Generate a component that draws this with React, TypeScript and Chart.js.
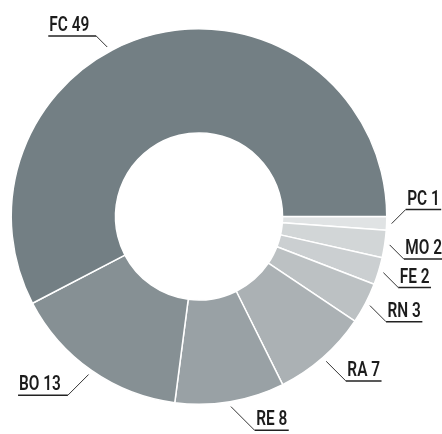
import React, { useEffect, useRef } from "react";
import { Chart, registerables } from "chart.js";

Chart.register(...registerables);

const categories = ["PC", "MO", "FE", "RN", "RA", "RE", "BO", "FC"];
const values = [1, 2, 2, 3, 7, 8, 13, 49];
const colors = ["#e0e3e4", "#d2d6d7", "#cbcfd1", "#bcc1c3", "#abb1b4", "#99a1a5", "#869094", "#737f84"];

const W = 442;
const H = 434;
const LABEL_FONT = '600 20px Roboto, "Liberation Sans", sans-serif';
const SQUEEZE = 0.77;

const outLabels = {
  id: "outLabels",
  afterDatasetsDraw(chart: any) {
    const ctx = chart.ctx;
    const meta = chart.getDatasetMeta(0);
    const labels = chart.data.labels as string[];
    const vals = chart.data.datasets[0].data as number[];
    const items: any[] = [];
    ctx.save();
    ctx.font = LABEL_FONT;
    meta.data.forEach((arc: any, i: number) => {
      const p = arc.getProps(["x", "y", "startAngle", "endAngle", "outerRadius"], true);
      const cx = p.x, cy = p.y;
      let a = (p.startAngle + p.endAngle) / 2;
      const r1 = p.outerRadius + 5;
      const side = Math.cos(a) >= 0 ? 1 : -1;
      const dir = Math.sin(a) >= 0 ? 1 : -1;
      const s2 = Math.sin(a) * Math.sin(a);
      let d = 14 + 10 * s2;
      let ax = cx + r1 * Math.cos(a);
      let ay = cy + r1 * Math.sin(a);
      let ly = ay + dir * d;
      const minLine = 36;
      const maxLine = H - 2;
      if (ly < minLine) {
        d = 11;
        ay = minLine + d;
        const s = Math.max(-1, Math.min(1, (ay - cy) / r1));
        a = side > 0 ? Math.asin(s) : Math.PI - Math.asin(s);
        ax = cx + r1 * Math.cos(a);
        ly = minLine;
      } else if (ly > maxLine) {
        ly = maxLine;
      }
      const text = `${labels[i]} ${vals[i]}`;
      items.push({ ax, ay, ly, d, dir, side, text, w: ctx.measureText(text).width * SQUEEZE });
    });
    [1, -1].forEach((sd) => {
      const group = items.filter((it) => it.side === sd).sort((p, q) => p.ay - q.ay);
      for (let k = 0; k < group.length - 1; k++) {
        const cur = group[k];
        const nxt = group[k + 1];
        if (nxt.ly - cur.ly < 26 && cur.dir > 0) {
          cur.dir = -1;
          cur.ly = cur.ay - cur.d;
        }
      }
    });
    items.forEach((it) => {
      const dy = Math.abs(it.ly - it.ay);
      const lx = it.ax + it.side * dy;
      ctx.strokeStyle = "#333333";
      ctx.lineWidth = 1;
      ctx.beginPath();
      ctx.moveTo(it.ax, it.ay);
      ctx.lineTo(lx, it.ly);
      ctx.stroke();
      let x0: number, x1: number, tx: number;
      if (it.side > 0) {
        x0 = lx;
        x1 = lx + it.w + 3;
        tx = lx + 1.5;
      } else {
        x0 = lx - it.w - 8;
        x1 = lx;
        tx = lx - it.w - 7;
      }
      ctx.strokeStyle = "#222222";
      ctx.lineWidth = 1.5;
      ctx.beginPath();
      ctx.moveTo(x0, it.ly);
      ctx.lineTo(x1, it.ly);
      ctx.stroke();
      ctx.save();
      ctx.fillStyle = "#1c1c1c";
      ctx.textAlign = "left";
      ctx.textBaseline = "alphabetic";
      ctx.translate(tx, it.ly - 5);
      ctx.scale(SQUEEZE, 1);
      ctx.fillText(it.text, 0, 0);
      ctx.restore();
    });
    ctx.restore();
  },
};

export default function App() {
  const ref = useRef<HTMLCanvasElement | null>(null);
  useEffect(() => {
    if (!ref.current) return;
    const chart = new Chart(ref.current, {
      type: "doughnut",
      data: {
        labels: categories,
        datasets: [
          {
            data: values,
            backgroundColor: colors,
            borderColor: "#ffffff",
            borderWidth: 1.5,
          },
        ],
      },
      options: {
        responsive: false,
        animation: false,
        rotation: 90,
        cutout: "44.5%",
        layout: { padding: { left: 10.5, right: 54.5, top: 28, bottom: 29 } },
        plugins: {
          legend: { display: false },
          tooltip: { enabled: false },
        },
      },
      plugins: [outLabels],
    } as any);
    return () => chart.destroy();
  }, []);
  return (
    <div style={{ position: "fixed", left: 0, top: 0, width: W, height: H, background: "#ffffff" }}>
      <canvas ref={ref} width={W} height={H} style={{ display: "block", width: W, height: H }} />
    </div>
  );
}
